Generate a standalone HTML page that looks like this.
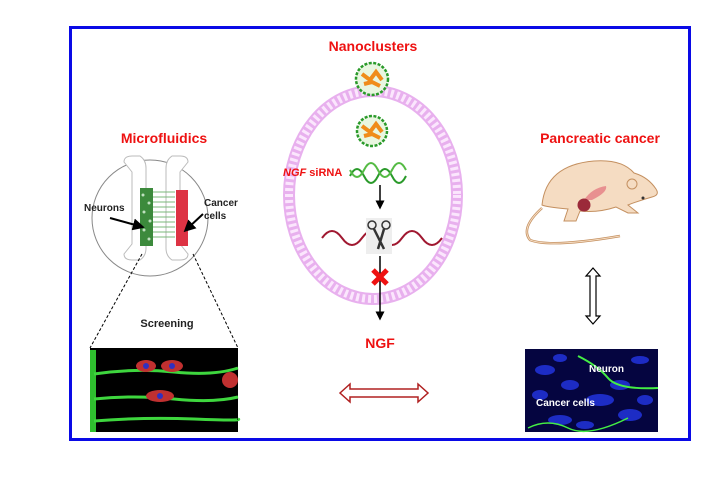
<!DOCTYPE html>
<html><head><meta charset="utf-8"><style>
html,body{margin:0;padding:0;background:#fff;}
svg{display:block;font-family:"Liberation Sans",Arial,sans-serif;}
</style></head><body>
<svg width="720" height="485" viewBox="0 0 720 485" xmlns="http://www.w3.org/2000/svg">
<defs>
<marker id="ah" markerWidth="6" markerHeight="6" refX="3" refY="3" orient="auto"><path d="M0,0 L6,3 L0,6 z" fill="#000"/></marker>
</defs>
<rect x="70.5" y="27.5" width="619" height="412" fill="#fff" stroke="#0a0ae6" stroke-width="3"/>

<!-- Left: Microfluidics -->
<text x="164" y="143" font-size="14" font-weight="bold" fill="#ee1111" text-anchor="middle">Microfluidics</text>
<circle cx="150" cy="218" r="58" fill="#fff" stroke="#888" stroke-width="1"/>
<path d="M132,172 l-8,-10 q0,-6 8,-6 l8,0 q6,4 6,12 l0,80 q0,8 -6,12 l-8,0 q-8,0 -8,-6 l8,-10z" fill="#fff" stroke="#bbb"/>
<path d="M180,172 l8,-10 q0,-6 -8,-6 l-8,0 q-6,4 -6,12 l0,80 q0,8 6,12 l8,0 q8,0 8,-6 l-8,-10z" fill="#fff" stroke="#bbb"/>
<rect x="140" y="188" width="13" height="58" fill="#3c8a3c"/>
<g fill="#bfe0bf"><circle cx="143" cy="195" r="1.5"/><circle cx="149" cy="203" r="1.5"/><circle cx="144" cy="212" r="1.5"/><circle cx="150" cy="221" r="1.5"/><circle cx="144" cy="230" r="1.5"/><circle cx="149" cy="239" r="1.5"/></g>
<g stroke="#7bb87b" stroke-width="1">
<line x1="153" y1="192" x2="175" y2="192"/><line x1="153" y1="197" x2="175" y2="197"/><line x1="153" y1="202" x2="175" y2="202"/><line x1="153" y1="207" x2="175" y2="207"/><line x1="153" y1="212" x2="175" y2="212"/><line x1="153" y1="217" x2="175" y2="217"/><line x1="153" y1="222" x2="175" y2="222"/><line x1="153" y1="227" x2="175" y2="227"/><line x1="153" y1="232" x2="175" y2="232"/><line x1="153" y1="237" x2="175" y2="237"/>
</g>
<rect x="176" y="190" width="12" height="56" fill="#dd3344"/>
<text x="84" y="211" font-size="10" font-weight="bold" fill="#222">Neurons</text>
<line x1="110" y1="218" x2="139" y2="226" stroke="#000" stroke-width="2" marker-end="url(#ah)"/>
<text x="204" y="206" font-size="10" font-weight="bold" fill="#222">Cancer</text>
<text x="204" y="219" font-size="10" font-weight="bold" fill="#222">cells</text>
<line x1="203" y1="214" x2="188" y2="228" stroke="#000" stroke-width="2" marker-end="url(#ah)"/>
<line x1="142" y1="254" x2="90" y2="348" stroke="#000" stroke-dasharray="3,2"/>
<line x1="193" y1="254" x2="238" y2="348" stroke="#000" stroke-dasharray="3,2"/>
<text x="167" y="327" font-size="11" font-weight="bold" fill="#222" text-anchor="middle">Screening</text>
<rect x="90" y="348" width="148" height="84" fill="#000"/>
<rect x="90" y="350" width="6" height="82" fill="#2fbf2f"/>
<g fill="none" stroke="#3ed63e" stroke-width="3">
<path d="M94,374 q40,-6 80,-2 t64,-4"/>
<path d="M94,399 q40,-4 80,0 t64,-2"/>
<path d="M94,421 q50,-4 100,-2 t44,0"/>
</g>
<g fill="#c03030"><ellipse cx="146" cy="366" rx="10" ry="6"/><ellipse cx="172" cy="366" rx="11" ry="6"/><ellipse cx="160" cy="396" rx="14" ry="6"/><ellipse cx="230" cy="380" rx="8" ry="8"/></g>
<g fill="#3030c0"><circle cx="146" cy="366" r="3"/><circle cx="172" cy="366" r="3"/><circle cx="160" cy="396" r="3"/></g>

<!-- Center -->
<text x="373" y="51" font-size="14" font-weight="bold" fill="#ee1111" text-anchor="middle">Nanoclusters</text>
<ellipse cx="373" cy="195" rx="84" ry="104" fill="none" stroke="#e8b0ee" stroke-width="12"/>
<ellipse cx="373" cy="195" rx="84" ry="104" fill="none" stroke="#fbe6fd" stroke-width="8" stroke-dasharray="3,3"/>
<g>
<circle cx="372" cy="79" r="16" fill="#e9f6e0" stroke="#2a9a2a" stroke-width="2.5" stroke-dasharray="3,1.5"/>
<path d="M362,74 l8,6 l6,-8 l6,8 M364,84 l8,-2 l8,4" stroke="#f08c1a" stroke-width="4" fill="none"/>
<circle cx="372" cy="131" r="15" fill="#e9f6e0" stroke="#2a9a2a" stroke-width="2.5" stroke-dasharray="3,1.5"/>
<path d="M362,126 l8,6 l6,-8 l6,8 M364,136 l8,-2 l8,4" stroke="#f08c1a" stroke-width="4" fill="none"/>
</g>
<text x="283" y="176" font-size="11" font-weight="bold" fill="#ee1111"><tspan font-style="italic">NGF</tspan> siRNA</text>
<path d="M350,176 q7,-14 14,0 t14,0 t14,0 t14,0" fill="none" stroke="#2a9a2a" stroke-width="2"/>
<path d="M350,170 q7,14 14,0 t14,0 t14,0 t14,0" fill="none" stroke="#55bb44" stroke-width="2"/>
<line x1="380" y1="185" x2="380" y2="205" stroke="#000" stroke-width="1.5" marker-end="url(#ah)"/>
<path d="M322,238 q10,-14 20,0 t20,0 t20,0 t20,0 t20,0 t20,0" fill="none" stroke="#a01830" stroke-width="2"/>
<rect x="366" y="218" width="26" height="36" fill="#eee"/>
<circle cx="372" cy="225" r="4" fill="none" stroke="#333" stroke-width="1.5"/><circle cx="386" cy="225" r="4" fill="none" stroke="#333" stroke-width="1.5"/>
<path d="M374,229 l10,20 M384,229 l-6,20" stroke="#333" stroke-width="2.5"/>
<line x1="380" y1="256" x2="380" y2="316" stroke="#000" stroke-width="1.5" marker-end="url(#ah)"/>
<path d="M373,270 l14,14 M387,270 l-14,14" stroke="#ee1111" stroke-width="5"/>
<text x="380" y="348" font-size="14" font-weight="bold" fill="#ee1111" text-anchor="middle">NGF</text>
<path d="M340,393 l10,-9 v5 h68 v-5 l10,9 l-10,9 v-5 h-68 v5z" fill="#fff" stroke="#b02020" stroke-width="1.5"/>

<!-- Right -->
<text x="600" y="143" font-size="14" font-weight="bold" fill="#ee1111" text-anchor="middle">Pancreatic cancer</text>
<path d="M542,205 q4,-40 52,-44 q28,-2 40,12 q14,4 22,16 q4,6 -4,8 q-14,4 -24,8 l10,8 h-10 l-12,-6 q-18,6 -36,4 l-4,10 h-12 l4,-12 q-22,-2 -26,-4z" fill="#f5dcc2" stroke="#c49060" stroke-width="1"/>
<path d="M542,208 q-22,20 -12,32 q20,8 90,-4" fill="none" stroke="#c49060" stroke-width="2.5"/>
<path d="M542,208 q-22,20 -12,32 q20,8 90,-4" fill="none" stroke="#f5dcc2" stroke-width="1"/>
<circle cx="632" cy="184" r="5" fill="#f5dcc2" stroke="#c49060"/>
<circle cx="643" cy="198" r="1.5" fill="#333"/>
<path d="M584,200 q8,-12 22,-14 q2,6 -14,14z" fill="#e89090"/>
<circle cx="584" cy="205" r="6.5" fill="#9b2a3a"/>
<path d="M593,268 l7,8 h-4 v40 h4 l-7,8 l-7,-8 h4 v-40 h-4z" fill="#fff" stroke="#000" stroke-width="1.2"/>
<rect x="525" y="349" width="133" height="83" fill="#050540"/>
<g fill="#2233dd" opacity="0.85"><ellipse cx="545" cy="370" rx="10" ry="5"/><ellipse cx="600" cy="400" rx="14" ry="6"/><ellipse cx="560" cy="420" rx="12" ry="5"/><ellipse cx="630" cy="415" rx="12" ry="6"/><ellipse cx="620" cy="385" rx="10" ry="5"/><ellipse cx="540" cy="395" rx="8" ry="5"/><ellipse cx="570" cy="385" rx="9" ry="5"/><ellipse cx="645" cy="400" rx="8" ry="5"/><ellipse cx="585" cy="425" rx="9" ry="4"/><ellipse cx="640" cy="360" rx="9" ry="4"/><ellipse cx="560" cy="358" rx="7" ry="4"/></g>
<path d="M578,356 q20,10 30,22 t50,10" fill="none" stroke="#44ee44" stroke-width="2"/>
<path d="M528,428 q20,-10 40,0 t60,-10" fill="none" stroke="#44ee44" stroke-width="1.5"/>
<text x="589" y="372" font-size="10" font-weight="bold" fill="#fff">Neuron</text>
<text x="536" y="406" font-size="10" font-weight="bold" fill="#fff">Cancer cells</text>
</svg>
</body></html>
